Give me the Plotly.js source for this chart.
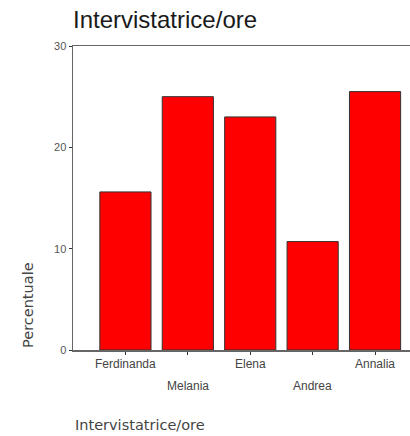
<!DOCTYPE html>
<html>
<head>
<meta charset="utf-8">
<script src="https://cdn.plot.ly/plotly-3.0.1.min.js"></script>
<style>html,body{margin:0;padding:0;background:#fff;}#chart{width:410px;height:436px;}</style>
</head>
<body>
<div id="chart"></div>
<script>
const categories = ["Ferdinanda", "Melania", "Elena", "Andrea", "Annalia"];
const percentuale = [15.6, 25.0, 23.0, 10.7, 25.5];
const yTickVals = [0, 10, 20, 30];
const labelRow = [0, 1, 0, 1, 0];

const idx = categories.map((c, i) => i);
const FONT = "Liberation Sans, Arial, sans-serif";
const FONT2 = "DejaVu Sans, Verdana, sans-serif";

const trace = {
  type: "bar",
  x: idx,
  y: percentuale,
  width: 0.82,
  marker: {color: "#ff0000", line: {color: "#333333", width: 1}},
  hoverinfo: "skip"
};

const annotations = categories.map((c, i) => ({
  text: c, x: i, xref: "x", y: 0, yref: "paper",
  xanchor: "center", yanchor: "top", showarrow: false,
  yshift: labelRow[i] ? -27 : -5,
  font: {family: FONT, size: 12, color: "#444"}
}));
annotations.push({
  text: "Percentuale", x: 0, xref: "paper", xshift: -45, y: 0.148, yref: "paper",
  xanchor: "center", yanchor: "middle", textangle: -90, showarrow: false,
  font: {family: FONT2, size: 14.5, color: "#444"}
});
annotations.push({
  text: "Intervistatrice/ore", x: 0, xref: "paper", y: 0, yref: "paper", yshift: -65,
  xanchor: "left", yanchor: "top", showarrow: false,
  font: {family: FONT2, size: 14.5, color: "#444"}
});

const layout = {
  width: 410, height: 436,
  margin: {l: 73, r: 0, t: 46, b: 86},
  paper_bgcolor: "#fff", plot_bgcolor: "#fff",
  showlegend: false,
  title: {text: "Intervistatrice/ore", x: 73/410, xanchor: "left", xref: "container",
          y: 1 - 28/436, yref: "container", yanchor: "bottom",
          font: {family: FONT, size: 24, color: "#1a1a1a"}},
  xaxis: {range: [-0.84, 4.56], tickvals: idx, showticklabels: false, ticks: "outside", ticklen: 3,
          tickcolor: "#333", showline: true, linecolor: "#666", linewidth: 1.5, mirror: true,
          showgrid: false, zeroline: false, fixedrange: true},
  yaxis: {range: [0, 30], tickvals: yTickVals, ticks: "outside", ticklen: 3, tickcolor: "#333",
          showline: true, linecolor: "#666", linewidth: 1.5, showgrid: false, zeroline: false,
          tickfont: {family: FONT, size: 11, color: "#555"}, fixedrange: true},
  annotations: annotations
};

Plotly.newPlot("chart", [trace], layout, {displayModeBar: false, staticPlot: true});
</script>
</body>
</html>
